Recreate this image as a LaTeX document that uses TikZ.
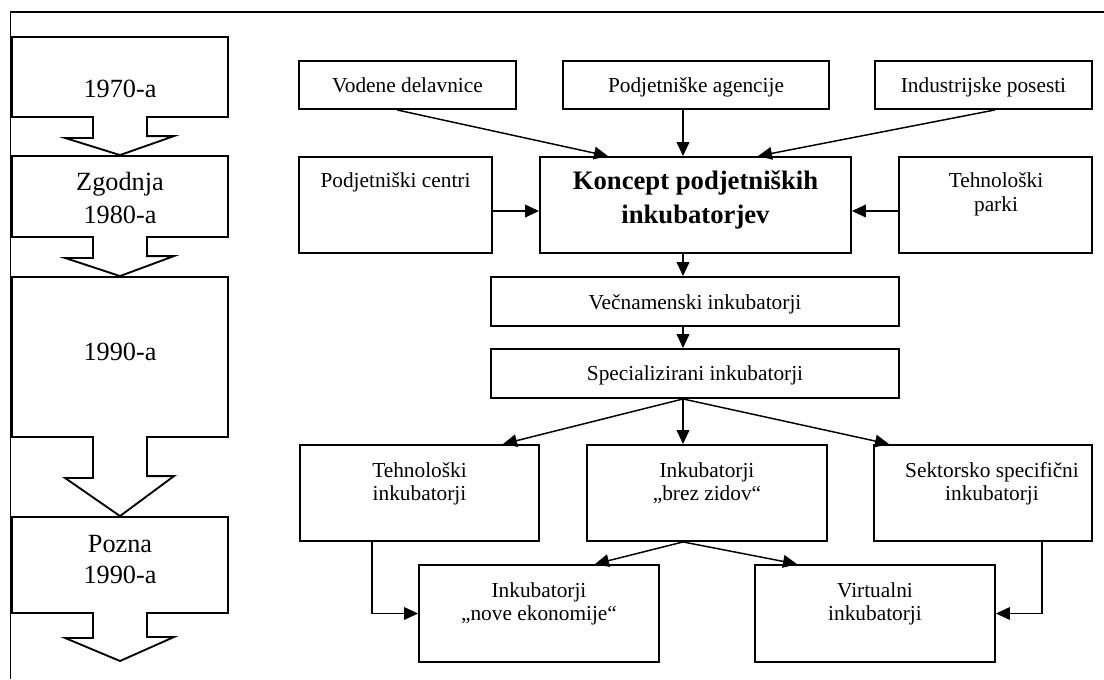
\documentclass[tikz,border=0pt]{standalone}
\usepackage{fontspec}
\setmainfont{Liberation Serif}
\usetikzlibrary{arrows.meta,fit}
\newdimen\px
\px=0.75pt
\begin{document}
\begin{tikzpicture}[x=0.75pt,y=-0.75pt,
  box/.style={draw, line width=1.4pt, inner sep=0pt},
  txt/.style={anchor=base, inner sep=0pt, font=\fontsize{16}{18}\selectfont},
  bigtxt/.style={anchor=base, inner sep=0pt, font=\fontsize{19.7}{22}\selectfont},
  boldtxt/.style={anchor=base, inner sep=0pt, font=\fontsize{20}{24}\selectfont\bfseries},
  arr/.style={line width=1.1pt, -{Triangle[length=10.5pt,width=9.5pt]}},
  blk/.style={line width=1.4pt, line join=miter},
  frame/.style={line width=1.4pt}]
\fill[white] (0,0) rectangle (1104,679);
\useasboundingbox (0,0) rectangle (1104,679);
\draw[frame] (10.5,679) -- (10.5,12) -- (1104,12);

% ---------- left time column ----------
\node[box, fit={(12,37) (228,117)}] (b1) {};
\node[box, fit={(12,156) (228,237)}] (b2) {};
\node[box, fit={(12,277) (228,437)}] (b3) {};
\node[box, fit={(12,517) (228,613)}] (b4) {};
\node[bigtxt] (l1) at (120,97) {1970-a};
\node[bigtxt] (l2a) at (120,190) {Zgodnja};
\node[bigtxt] (l2b) at (120,223) {1980-a};
\node[bigtxt] (l3) at (120,360) {1990-a};
\node[bigtxt] (l4a) at (120,552) {Pozna};
\node[bigtxt] (l4b) at (120,583) {1990-a};

% erase box bottoms where the stems start
\foreach \b in {b1,b2,b3,b4}
  \fill[white] ([xshift=-26.3\px,yshift=3.5\px]\b.south) rectangle ([xshift=26.3\px,yshift=-3\px]\b.south);
% block arrows
\draw[blk] ([xshift=-27\px]b1.south) -- ++(0,20) -- ++(-28,0) -- (b2.north) -- ++(54,-19) -- ++(-27,0) -- ([xshift=27\px]b1.south);
\draw[blk] ([xshift=-27\px]b2.south) -- ++(0,20) -- ++(-28,0) -- (b3.north) -- ++(54,-20) -- ++(-27,0) -- ([xshift=27\px]b2.south);
\draw[blk] ([xshift=-27\px]b3.south) -- ++(0,40) -- ++(-28,0) -- (b4.north) -- ++(54,-40) -- ++(-27,0) -- ([xshift=27\px]b3.south);
\coordinate (end) at (120,661);
\draw[blk] ([xshift=-27\px]b4.south) -- ++(0,24) -- ++(-28,0) -- (end) -- ++(54,-24) -- ++(-27,0) -- ([xshift=27\px]b4.south);

% ---------- right diagram ----------
\node[box, fit={(299,61) (516,109)}] (vod) {};
\node[box, fit={(563,61) (829,109)}] (age) {};
\node[box, fit={(875,61) (1092,109)}] (ind) {};
\node[box, fit={(299,157) (492,253)}] (pc) {};
\node[box, fit={(540,157) (851,253)}] (kon) {};
\node[box, fit={(899,157) (1092,253)}] (tp) {};
\node[box, fit={(491,277) (899,326)}] (vec) {};
\node[box, fit={(491,349) (899,398)}] (spe) {};
\node[box, fit={(300,445) (539,541)}] (ti) {};
\node[box, fit={(587,445) (827,541)}] (bz) {};
\node[box, fit={(874,445) (1092,541)}] (ss) {};
\node[box, fit={(419,565) (659,662)}] (ne) {};
\node[box, fit={(755,565) (995,662)}] (vi) {};

\node[txt] (tvod) at (407.5,92) {Vodene delavnice};
\node[txt] (tage) at (696,92) {Podjetniške agencije};
\node[txt] (tind) at (983.5,92) {Industrijske posesti};
\node[txt] (tpc) at (395.5,187) {Podjetniški centri};
\node[boldtxt] (tk1) at (695.5,189) {Koncept podjetniških};
\node[boldtxt] (tk2) at (695.5,223) {inkubatorjev};
\node[txt] (ttp1) at (996,187) {Tehnološki};
\node[txt] (ttp2) at (996,211) {parki};
\node[txt] (tvec) at (695,309) {Večnamenski inkubatorji};
\node[txt] (tspe) at (695,380) {Specializirani inkubatorji};
\node[txt] (tti1) at (419.5,477) {Tehnološki};
\node[txt] (tti2) at (419.5,500) {inkubatorji};
\node[txt] (tbz1) at (707,477) {Inkubatorji};
\node[txt] (tbz2) at (707,500) {„brez zidov“};
\node[txt] (tss1) at (992,477) {Sektorsko specifični};
\node[txt] (tss2) at (992,500) {inkubatorji};
\node[txt] (tne1) at (539,597) {Inkubatorji};
\node[txt] (tne2) at (539,620) {„nove ekonomije“};
\node[txt] (tvi1) at (875,597) {Virtualni};
\node[txt] (tvi2) at (875,620) {inkubatorji};

% connectors
\draw[arr] ([xshift=-10.5\px]vod.south) -- ([xshift=-87.5\px]kon.north);
\draw[arr] ([xshift=-13\px]age.south) -- ([xshift=-12.5\px]kon.north);
\draw[arr] ([xshift=11.5\px]ind.south) -- ([xshift=62.5\px]kon.north);
\draw[arr] ([yshift=-6\px]pc.east) -- ([yshift=-6\px]kon.west);
\draw[arr] ([yshift=-6\px]tp.west) -- ([yshift=-6\px]kon.east);
\draw[arr] ([xshift=-12.5\px]kon.south) -- ([xshift=-12\px]vec.north);
\draw[arr] ([xshift=-12\px]vec.south) -- ([xshift=-12\px]spe.north);
\draw[arr] ([xshift=-12\px]spe.south) -- ([xshift=83.5\px]ti.north);
\draw[arr] ([xshift=-12\px]spe.south) -- ([xshift=-24\px]bz.north);
\draw[arr] ([xshift=-12\px]spe.south) -- ([xshift=-94\px]ss.north);
\draw[arr] ([xshift=-24\px]bz.south) -- ([xshift=56\px]ne.north);
\draw[arr] ([xshift=-24\px]bz.south) -- ([xshift=-78\px]vi.north);
\draw[arr] ([xshift=-47.5\px]ti.south) |- (ne.west);
\draw[arr] ([xshift=59\px]ss.south) |- (vi.east);
\end{tikzpicture}
\end{document}
